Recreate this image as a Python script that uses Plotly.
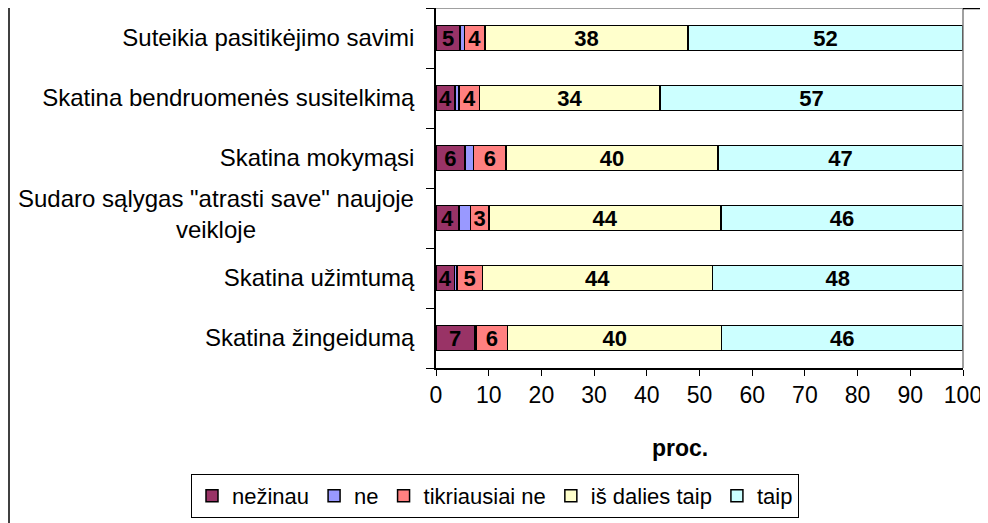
import plotly.graph_objects as go

categories = [
    "Suteikia pasitikėjimo savimi",
    "Skatina bendruomenės susitelkimą",
    "Skatina mokymąsi",
    "Sudaro sąlygas \"atrasti save\" naujoje veikloje",
    "Skatina užimtumą",
    "Skatina žingeidumą",
]
series_names = ["nežinau", "ne", "tikriausiai ne", "iš dalies taip", "taip"]

nezinau = [4.6, 3.6, 5.5, 4.4, 3.5, 7.3]
ne = [0.8, 0.8, 1.6, 2.1, 0.5, 0.3]
tikriausiai_ne = [3.9, 3.9, 6.2, 3.6, 4.8, 6.0]
is_dalies_taip = [38.5, 34.2, 40.2, 44.0, 43.7, 40.6]
taip = [52.2, 57.5, 46.5, 45.9, 47.5, 45.8]

lbl_nezinau = ["5", "4", "6", "4", "4", "7"]
lbl_ne = ["", "", "", "", "", ""]
lbl_tikriausiai_ne = ["4", "4", "6", "3", "5", "6"]
lbl_is_dalies_taip = ["38", "34", "40", "44", "44", "40"]
lbl_taip = ["52", "57", "47", "46", "48", "46"]

x_ticks = [0, 10, 20, 30, 40, 50, 60, 70, 80, 90, 100]

colors = ["#993366", "#9999FF", "#FF8080", "#FFFFCC", "#CCFFFF"]
values = [nezinau, ne, tikriausiai_ne, is_dalies_taip, taip]
labels = [lbl_nezinau, lbl_ne, lbl_tikriausiai_ne, lbl_is_dalies_taip, lbl_taip]

FONT = "Liberation Sans, Arial, sans-serif"

fig = go.Figure()
for name, vals, txt, col in zip(series_names, values, labels, colors):
    fig.add_trace(go.Bar(
        y=categories, x=vals, name=name, orientation="h",
        marker=dict(color=col, line=dict(color="black", width=1.5)),
        text=txt, textposition="inside", insidetextanchor="middle",
        textangle=0, constraintext="none",
        textfont=dict(family=FONT, size=22, color="black", weight="bold"),
        hoverinfo="x+y+name",
    ))

# page body has an 8px margin; work in reference-pixel coordinates
OFF = 8
W, H = 980, 515
L, R, T, B = 436 - OFF, 963 - OFF, 0, 368 - OFF
pw, ph = R - L, B - T

def px(x):
    return (x - OFF - L) / pw

def py(y):
    return (B - (y - OFF)) / ph

tick_text = [c if not c.startswith("Sudaro") else " " for c in categories]

fig.update_layout(
    width=W, height=H,
    margin=dict(l=L, r=W - R, t=T, b=H - B, autoexpand=False),
    barmode="stack", bargap=0.59,
    plot_bgcolor="white", paper_bgcolor="white",
    font=dict(family=FONT, size=22, color="black"),
    showlegend=True,
    legend=dict(
        orientation="h", x=px(191), y=py(474), xanchor="left", yanchor="top",
        bordercolor="black", borderwidth=1, bgcolor="white",
        font=dict(family=FONT, size=22, color="black"),
        itemwidth=30, traceorder="normal",
    ),
    xaxis=dict(
        range=[0, 100], tickvals=x_ticks, showgrid=False, zeroline=False,
        showline=True, linecolor="black", linewidth=1.5,
        ticks="outside", ticklen=6, tickcolor="black", tickwidth=1,
        ticklabelstandoff=0,
        tickfont=dict(family=FONT, size=23, color="black"),
    ),
    yaxis=dict(
        autorange="reversed", showgrid=False, zeroline=False,
        showline=True, linecolor="black", linewidth=1.5,
        ticks="outside", ticklen=8, tickcolor="black", tickwidth=1,
        tickson="boundaries", ticklabelstandoff=15,
        tickvals=categories, ticktext=tick_text,
        tickfont=dict(family=FONT, size=24, color="black"),
    ),
    annotations=[
        dict(text="<b>proc.</b>", x=px(680), y=py(448), xref="paper", yref="paper",
             showarrow=False, xanchor="center", yanchor="middle",
             font=dict(family=FONT, size=23, color="black")),
        dict(text="Sudaro sąlygas \"atrasti save\" naujoje<br>veikloje",
             x=px(416), y=py(214), xref="paper", yref="paper",
             showarrow=False, xanchor="right", yanchor="middle", align="center",
             font=dict(family=FONT, size=24, color="black")),
    ],
    shapes=[
        dict(type="line", xref="paper", yref="paper", x0=0, x1=1, y0=1, y1=1,
             line=dict(color="#808080", width=1.5)),
        dict(type="line", xref="paper", yref="paper", x0=1, x1=1, y0=0, y1=1,
             line=dict(color="#808080", width=1.5)),
        dict(type="line", xref="paper", yref="paper", x0=px(9), x1=px(9), y0=py(530), y1=py(0),
             line=dict(color="black", width=1.5)),
        dict(type="line", xref="paper", yref="paper", x0=px(987), x1=px(987), y0=py(530), y1=py(7),
             line=dict(color="black", width=1.5)),
        dict(type="line", xref="paper", yref="paper", x0=1, x1=px(987), y0=py(8.5), y1=py(8.5),
             line=dict(color="black", width=1.5)),
    ],
)

fig.write_html("out.html")
